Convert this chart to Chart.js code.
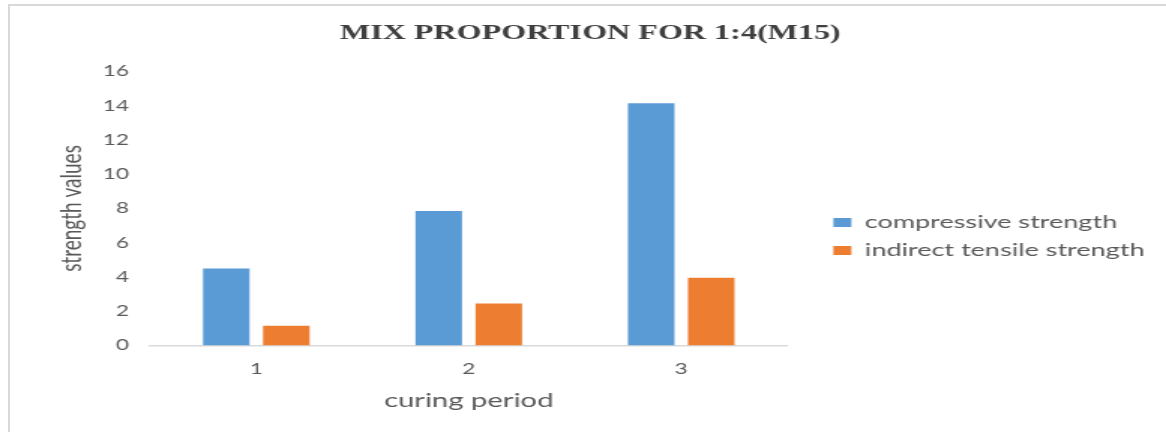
<!DOCTYPE html>
<html><head><meta charset="utf-8">
<script src="https://cdn.jsdelivr.net/npm/chart.js@4/dist/chart.umd.min.js"></script>
<style>
html,body{margin:0;padding:0;background:#fff;overflow:hidden;width:1166px;height:432px;}
#frame{position:absolute;left:8px;top:4px;width:1300px;height:600px;border-left:2px solid #d9d9d9;border-top:2px solid #d9d9d9;}
#c{position:absolute;left:0;top:0;width:1166px;height:432px;}
</style></head><body>
<div id="frame"></div>
<canvas id="c" width="777" height="432" style="width:1166px;height:432px"></canvas>
<script>
const categories = ['1', '2', '3'];
const compressiveStrength = [4.5, 7.85, 14.15];
const indirectTensileStrength = [1.15, 2.45, 3.95];
const seriesNames = ['compressive strength', 'indirect tensile strength'];
const yMin = 0, yMax = 16, yStep = 2;
const chartTitle = 'MIX PROPORTION FOR 1:4(M15)';
const xTitle = 'curing period';
const yTitle = 'strength values';

const textColor = '#595959';

new Chart(document.getElementById('c'), {
  type: 'bar',
  data: {
    labels: categories,
    datasets: [
      { label: seriesNames[0], data: compressiveStrength, backgroundColor: '#5B9BD5', borderWidth: 0,
        categoryPercentage: 0.565, barPercentage: 0.775 },
      { label: seriesNames[1], data: indirectTensileStrength, backgroundColor: '#ED7D31', borderWidth: 0,
        categoryPercentage: 0.565, barPercentage: 0.775 }
    ]
  },
  options: {
    responsive: false,
    devicePixelRatio: 1,
    animation: false,
    layout: { padding: { left: 14, right: 4.3, top: 0, bottom: 0 } },
    plugins: {
      tooltip: { enabled: false },
      title: {
        display: true, text: chartTitle, color: '#3f3f3f',
        font: { family: 'Liberation Serif', size: 21.4, weight: 'bold', lineHeight: 1.2 },
        padding: { top: 20.2, bottom: 25.6 }
      },
      legend: {
        position: 'right', align: 'center', maxWidth: 400,
        title: { display: true, text: ' ', font: { size: 10, lineHeight: 1.2 }, padding: 14.5 },
        labels: {
          boxWidth: 12, boxHeight: 9, padding: 10, color: textColor,
          font: { family: 'Lato', size: 18 }
        }
      }
    },
    scales: {
      x: {
        grid: { display: false, drawTicks: false },
        border: { display: true, color: '#d9d9d9', width: 1.5 },
        ticks: { color: textColor, font: { family: 'Lato', size: 15 }, padding: 15 },
        title: { display: true, text: xTitle, color: textColor, font: { family: 'Lato', size: 19.5, lineHeight: 1.2 },
                 padding: { top: 0, bottom: 20 } },
        afterFit(s) { s.height = 86.5; }
      },
      y: {
        min: yMin, max: yMax,
        grid: { display: false, drawTicks: false },
        border: { display: false },
        ticks: { stepSize: yStep, color: textColor, font: { family: 'Lato', size: 15 }, padding: 14 },
        title: { display: true, text: yTitle, color: textColor, font: { family: 'Lato', size: 19, lineHeight: 1.2 },
                 padding: { top: 22.6, bottom: 0 } },
        afterFit(s) { s.width = 86; }
      },
      gap: {
        type: 'linear', position: 'right', display: true,
        grid: { display: false, drawTicks: false },
        border: { display: false },
        ticks: { display: false },
        afterFit(s) { s.width = 20.6; }
      }
    }
  }
});
</script>
</body></html>
